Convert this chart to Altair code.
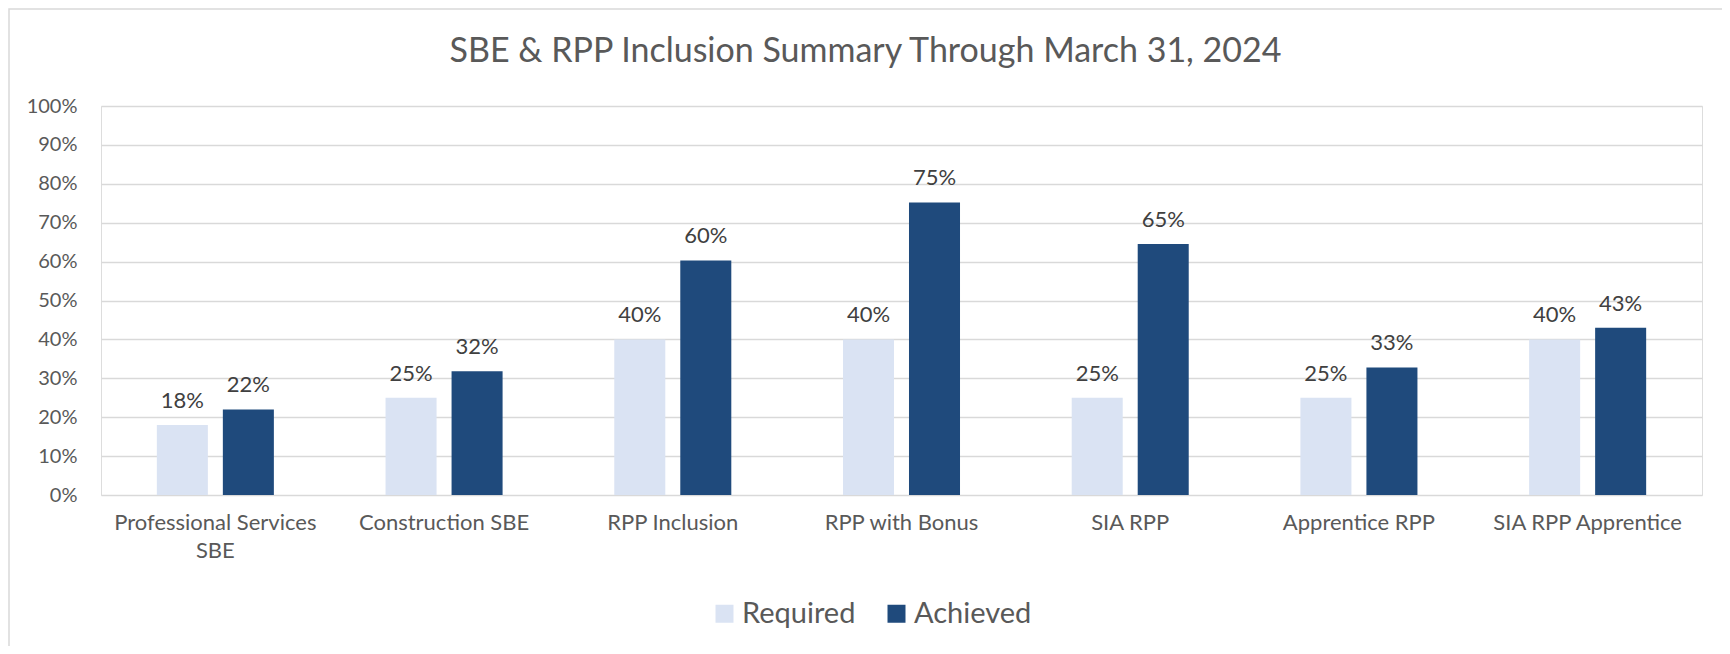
import altair as alt
import pandas as pd

categories = ["Professional Services SBE", "Construction SBE", "RPP Inclusion",
              "RPP with Bonus", "SIA RPP", "Apprentice RPP", "SIA RPP Apprentice"]
series = ["Required", "Achieved"]
required = [0.18, 0.25, 0.40, 0.40, 0.25, 0.25, 0.40]
achieved = [0.22, 0.318, 0.603, 0.752, 0.645, 0.328, 0.43]
required_labels = ["18%", "25%", "40%", "40%", "25%", "25%", "40%"]
achieved_labels = ["22%", "32%", "60%", "75%", "65%", "33%", "43%"]
y_ticks = [0, 0.1, 0.2, 0.3, 0.4, 0.5, 0.6, 0.7, 0.8, 0.9, 1.0]
colors = ["#DAE3F3", "#1F4A7C"]

rows = []
for i, c in enumerate(categories):
    rows.append({"cat": c, "series": "Required", "value": required[i], "label": required_labels[i]})
    rows.append({"cat": c, "series": "Achieved", "value": achieved[i], "label": achieved_labels[i]})
df = pd.DataFrame(rows)

FONT = "Lato"
W, H = 1601, 389

x_enc = alt.X("cat:N", sort=categories, title=None,
              scale=alt.Scale(paddingInner=0, paddingOuter=0),
              axis=alt.Axis(labelAngle=0, labelFontSize=22, labelColor="#595959",
                            labelFont=FONT, ticks=False, tickSize=0, domain=False,
                            labelPadding=17, labelLineHeight=28, labelLimit=0,
                            labelExpr="datum.value == 'Professional Services SBE' ? ['Professional Services', 'SBE'] : datum.value"))
xo_enc = alt.XOffset("series:N", sort=series,
                     scale=alt.Scale(paddingInner=0.227, paddingOuter=0.846))
y_enc = alt.Y("value:Q", title=None,
              scale=alt.Scale(domain=[0, 1], nice=False),
              axis=alt.Axis(values=y_ticks, format=".0%", labelFontSize=20,
                            labelColor="#595959", labelFont=FONT, ticks=False,
                            tickSize=0, domain=False, labelPadding=24,
                            labelOverlap=False,
                            grid=True, gridColor="#D9D9D9", gridWidth=1.5))
color_enc = alt.Color("series:N", sort=series,
                      scale=alt.Scale(domain=series, range=colors),
                      legend=alt.Legend(title=None, orient="none", direction="horizontal",
                                        legendX=609, legendY=493,
                                        symbolType="square", symbolSize=324,
                                        symbolStrokeWidth=0, labelFontSize=29,
                                        labelFont=FONT, labelColor="#595959",
                                        labelOffset=3, columnPadding=26, padding=0))

bars = alt.Chart(df).mark_bar(stroke=None).encode(
    x=x_enc, xOffset=xo_enc, y=y_enc, color=color_enc
)
text = alt.Chart(df).mark_text(baseline="alphabetic", dy=-17, fontSize=22,
                               font=FONT, color="#404040").encode(
    x=x_enc, xOffset=xo_enc, y=y_enc, text="label:N"
)
frame_df = pd.DataFrame({"k": [0]})
frame = alt.Chart(frame_df).mark_rect(fill=None, stroke="#D9D9D9", strokeWidth=1.5).encode(
    x=alt.value(-92), x2=alt.value(W + 30), y=alt.value(-97), y2=alt.value(H + 160)
)

chart = alt.layer(frame, bars, text).properties(
    width=W, height=H,
    title=alt.TitleParams("SBE & RPP Inclusion Summary Through March 31, 2024",
                          font=FONT, fontSize=34, fontWeight="normal", color="#595959",
                          anchor="middle", baseline="alphabetic", dx=-36, dy=88, offset=0),
    autosize=alt.AutoSizeParams(type="none"),
    padding={"left": 93, "top": 98, "right": 20, "bottom": 151},
).configure_view(stroke=None).configure(font=FONT)

chart.save("out.html", embed_options={"renderer": "svg", "actions": False})
